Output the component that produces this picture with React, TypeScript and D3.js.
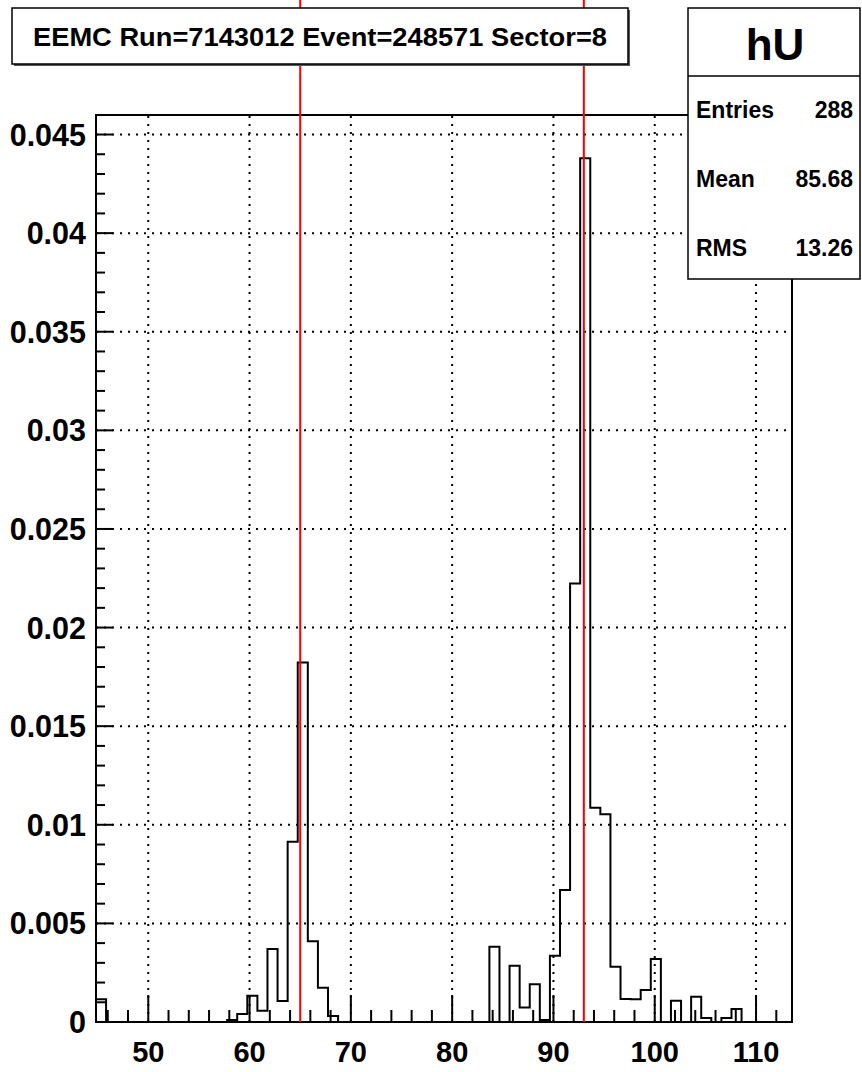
import React from "react";
import * as d3 from "d3";

const W = 862;
const H = 1072;

// Histogram "hU" — bin contents (69 bins across the visible x-range)
const xMin = 44.84;
const xMax = 113.55;
const binValues: number[] = [
  0.00115, 0, 0, 0, 0, 0, 0, 0, 0, 0, 0, 0, 0,
  0.0001, 0.0004, 0.00133, 0.00057, 0.0037, 0.00106, 0.00914, 0.01823, 0.0041, 0.00174, 0.0003,
  0, 0, 0, 0, 0, 0, 0, 0, 0, 0, 0, 0, 0, 0, 0,
  0.00382, 0, 0.00285, 0.00074, 0.00191, 0.0001, 0.00336, 0.00669, 0.02223, 0.0438,
  0.01086, 0.01054, 0.0028, 0.00117, 0.00115, 0.00162, 0.00319, 0, 0.00108, 0,
  0.00128, 0.0002, 0, 0.0002, 0.00066,
  0, 0, 0, 0, 0,
];
const yMax = 0.04599;

const xMajorTicks = [50, 60, 70, 80, 90, 100, 110];
const xMinorTicks = [46, 48, 52, 54, 56, 58, 62, 64, 66, 68, 72, 74, 76, 78, 82, 84, 86, 88, 92, 94, 96, 98, 102, 104, 106, 108, 112];
const yMajorTicks = [0, 0.005, 0.01, 0.015, 0.02, 0.025, 0.03, 0.035, 0.04, 0.045];
const yMajorLabels = ["0", "0.005", "0.01", "0.015", "0.02", "0.025", "0.03", "0.035", "0.04", "0.045"];
const yMinorStep = 0.001;

const redLines = [65, 93];

const titleText = "EEMC Run=7143012 Event=248571 Sector=8";
const statsTitle = "hU";
const statsLabels = ["Entries", "Mean", "RMS"];
const statsValues = ["288", "85.68", "13.26"];

const FONT = "'Liberation Sans', Arial, Helvetica, sans-serif";

export default function App() {
  const left = 96, right = 792, top = 115, bottom = 1022;
  const x = d3.scaleLinear().domain([xMin, xMax]).range([left, right]);
  const y = d3.scaleLinear().domain([0, yMax]).range([bottom, top]);
  const bw = (xMax - xMin) / binValues.length;

  const pts: [number, number][] = [[xMin, 0]];
  binValues.forEach((v, i) => {
    pts.push([xMin + i * bw, v]);
    pts.push([xMin + (i + 1) * bw, v]);
  });
  pts.push([xMax, 0]);
  const line = d3.line<[number, number]>().x((d) => x(d[0])).y((d) => y(d[1]));

  const yMinor = d3.range(0, yMax, yMinorStep).filter((v) => Math.abs(Math.round(v / 0.005) * 0.005 - v) > 1e-6);

  return (
    <svg width={W} height={H} style={{ position: "absolute", left: 0, top: 0, background: "#fff" }}>
      <rect x={0} y={0} width={W} height={H} fill="#fff" />
      {/* grid */}
      <g stroke="#000" strokeWidth={2} strokeDasharray="2,6">
        {xMajorTicks.map((t) => (
          <line key={"gx" + t} x1={x(t)} x2={x(t)} y1={bottom} y2={top} />
        ))}
        {yMajorTicks.filter((t) => t > 0).map((t) => (
          <line key={"gy" + t} x1={left} x2={right} y1={y(t)} y2={y(t)} />
        ))}
      </g>
      {/* histogram */}
      <path d={line(pts) || ""} fill="none" stroke="#000" strokeWidth={2} />
      {/* ticks */}
      <g stroke="#000" strokeWidth={2}>
        {xMajorTicks.map((t) => (
          <line key={"tx" + t} x1={x(t)} x2={x(t)} y1={bottom} y2={bottom - 27} />
        ))}
        {xMinorTicks.map((t) => (
          <line key={"mx" + t} x1={x(t)} x2={x(t)} y1={bottom} y2={bottom - 12} />
        ))}
        {yMajorTicks.map((t) => (
          <line key={"ty" + t} x1={left} x2={left + 17} y1={y(t)} y2={y(t)} />
        ))}
        {yMinor.map((t, i) => (
          <line key={"my" + i} x1={left} x2={left + 9} y1={y(t)} y2={y(t)} />
        ))}
      </g>
      {/* frame */}
      <rect x={left} y={top} width={right - left} height={bottom - top} fill="none" stroke="#000" strokeWidth={2} />
      {/* red lines */}
      {redLines.map((v) => (
        <line key={"r" + v} x1={x(v)} x2={x(v)} y1={0} y2={bottom} stroke="#ff0000" strokeWidth={2} />
      ))}
      {/* tick labels */}
      <g fontFamily={FONT} fontWeight="bold" fill="#000">
        {xMajorTicks.map((t) => (
          <text key={"lx" + t} x={x(t)} y={1062} textAnchor="middle" fontSize={29}>{t}</text>
        ))}
        {yMajorTicks.map((t, i) => (
          <text key={"ly" + t} x={86} y={y(t) + 11} textAnchor="end" fontSize={30.5}>{yMajorLabels[i]}</text>
        ))}
      </g>
      {/* title box */}
      <rect x={14} y={10} width={616} height={56} fill="#555" />
      <rect x={12} y={8} width={616} height={56} fill="#fff" stroke="#000" strokeWidth={1.5} />
      <text x={320} y={46} textAnchor="middle" fontFamily={FONT} fontWeight="bold" fontSize={25}
        textLength={574} lengthAdjust="spacingAndGlyphs" fill="#000">
        {titleText}
      </text>
      {/* stats box */}
      <rect x={688} y={8} width={172} height={271} fill="#fff" stroke="#000" strokeWidth={1.5} />
      <line x1={688} x2={860} y1={76} y2={76} stroke="#000" strokeWidth={1.5} />
      <text x={775} y={60} textAnchor="middle" fontFamily={FONT} fontWeight="bold" fontSize={44} fill="#000">
        {statsTitle}
      </text>
      <g fontFamily={FONT} fontWeight="bold" fontSize={23} fill="#000">
        {statsLabels.map((l, i) => (
          <text key={"sl" + l} x={696} y={118 + i * 69}>{l}</text>
        ))}
        {statsValues.map((v, i) => (
          <text key={"sv" + i} x={853} y={118 + i * 69} textAnchor="end">{v}</text>
        ))}
      </g>
    </svg>
  );
}
